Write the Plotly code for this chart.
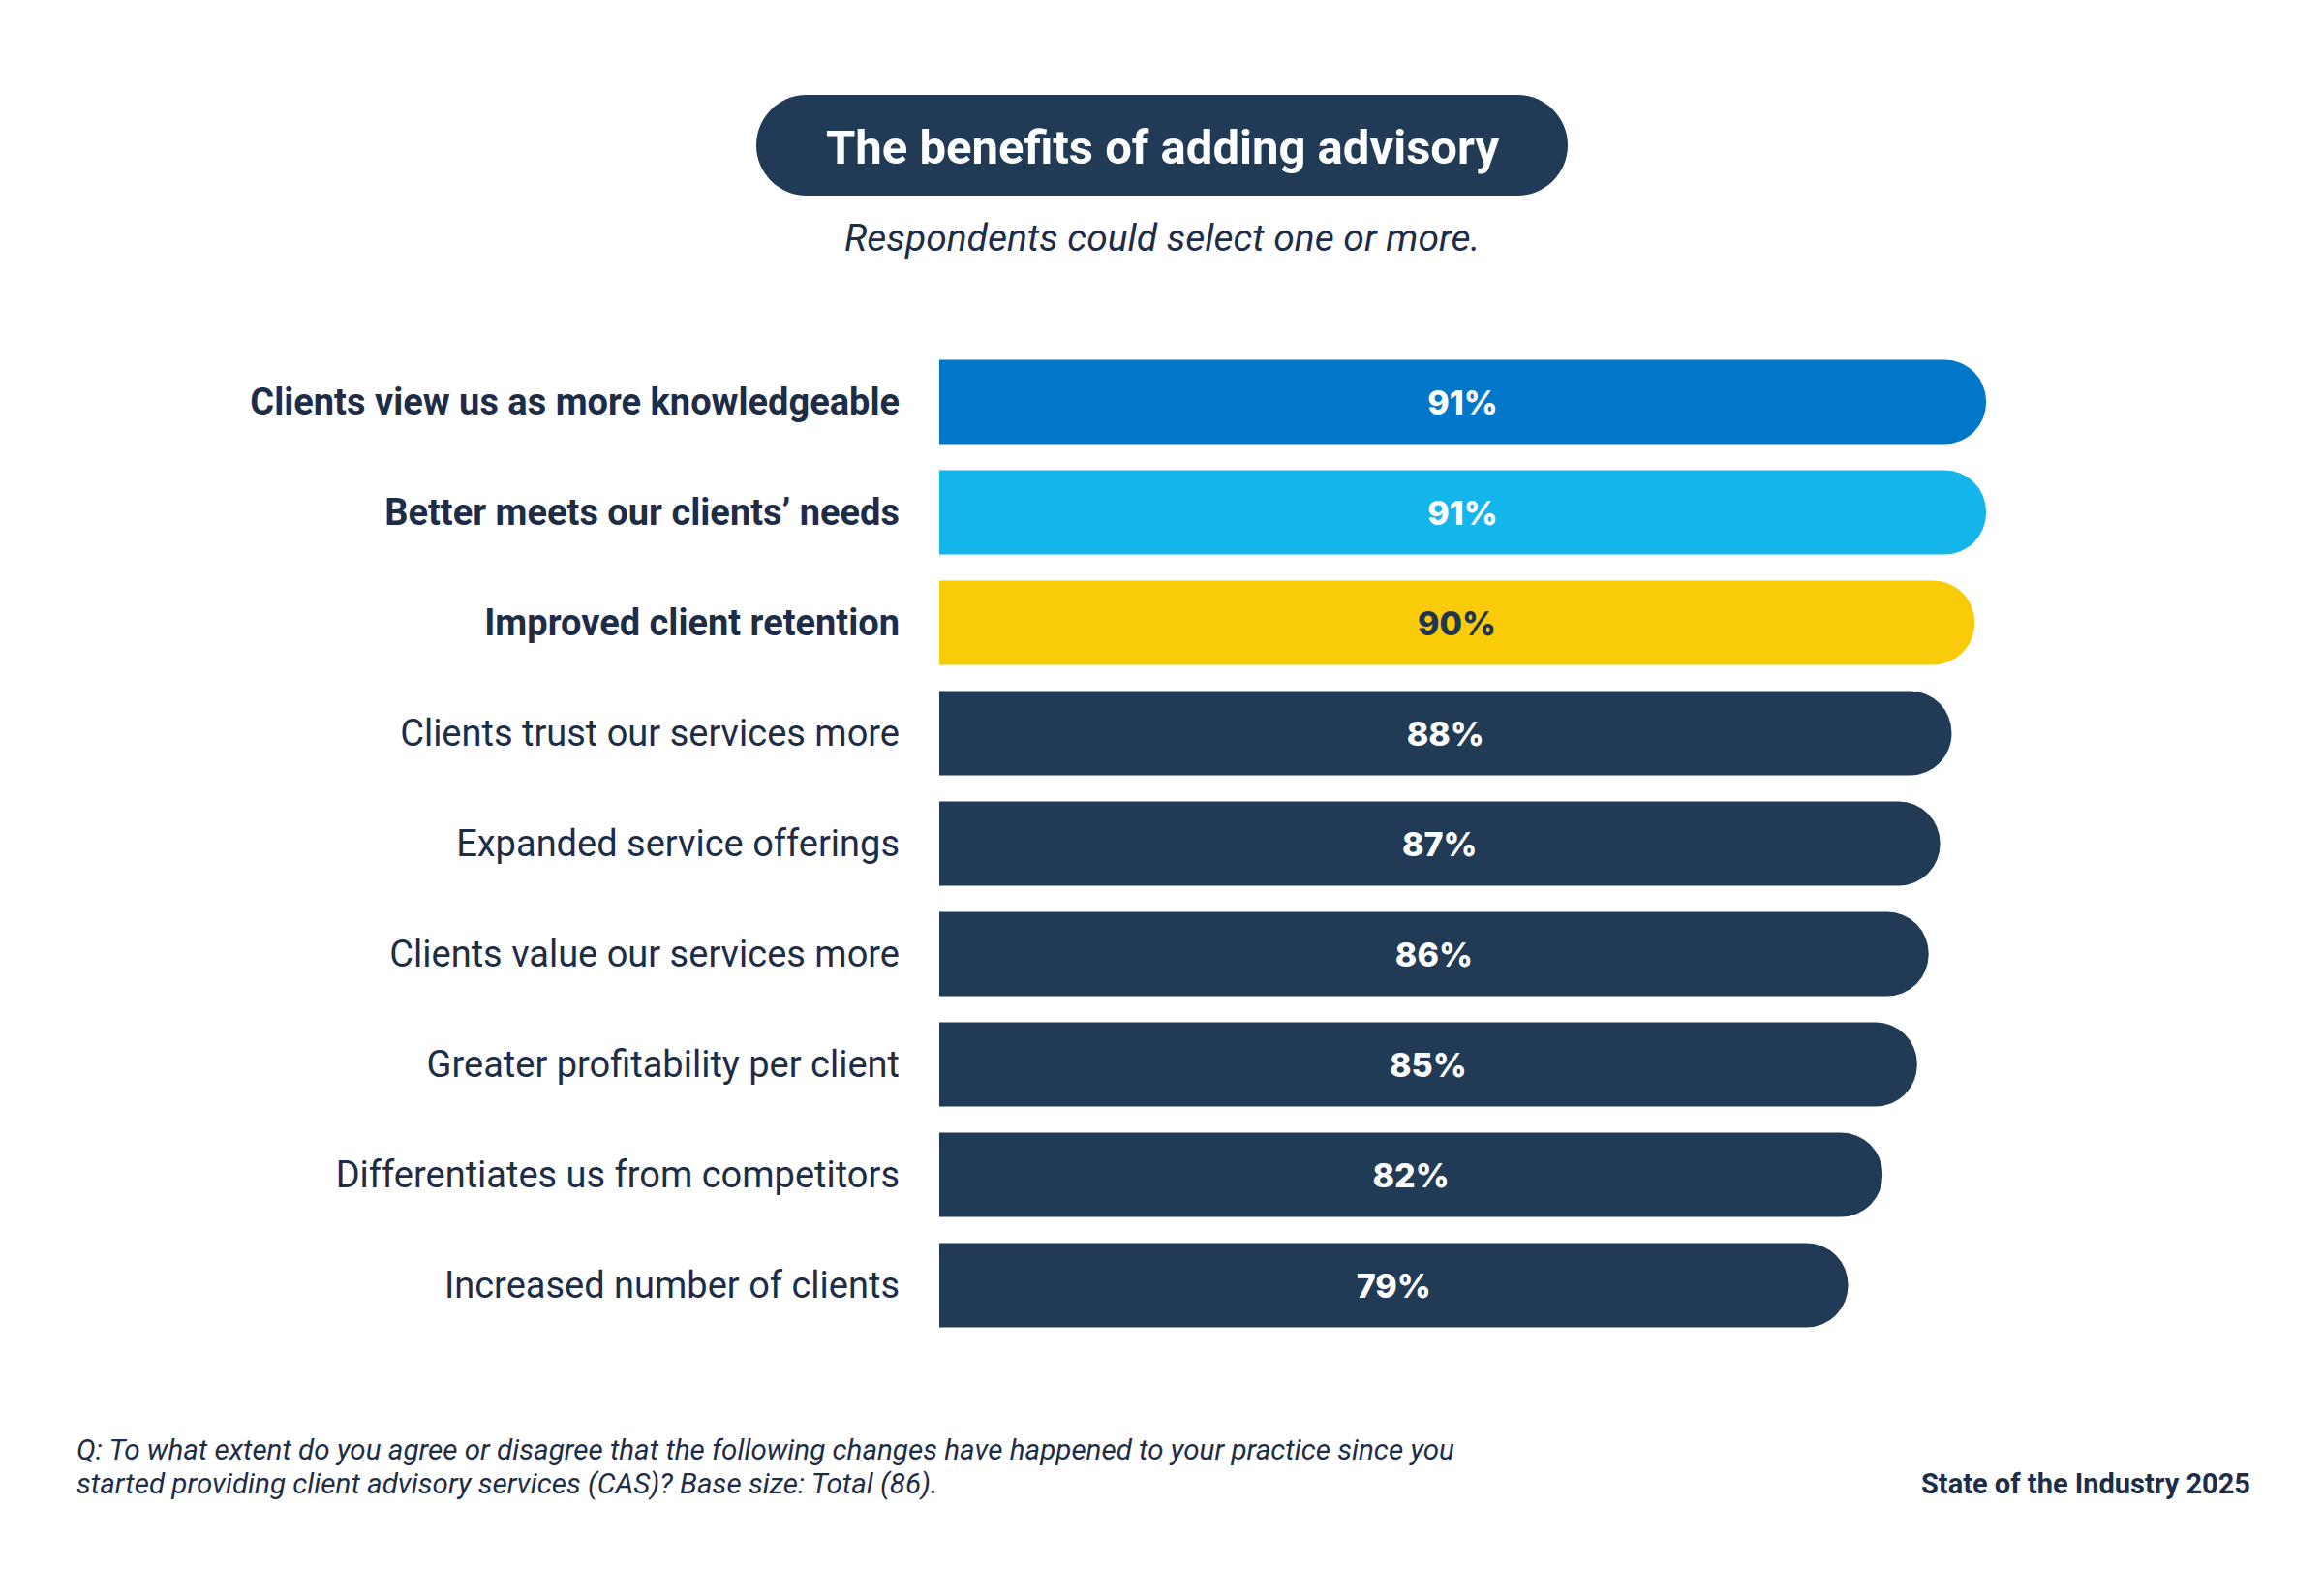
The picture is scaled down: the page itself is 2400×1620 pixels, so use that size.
import plotly.graph_objects as go

# survey results, top to bottom
categories = [
    "Clients view us as more knowledgeable",
    "Better meets our clients’ needs",
    "Improved client retention",
    "Clients trust our services more",
    "Expanded service offerings",
    "Clients value our services more",
    "Greater profitability per client",
    "Differentiates us from competitors",
    "Increased number of clients",
]
values = [91, 91, 90, 88, 87, 86, 85, 82, 79]
highlight = [True, True, True, False, False, False, False, False, False]

bar_colors = ["#0077C8", "#13B5EA", "#FACB09"] + ["#213A56"] * 6
label_colors = ["#FFFFFF", "#FFFFFF", "#1F3551"] + ["#FFFFFF"] * 6

NAVY = "#1E2D47"
W, H = 2400, 1620
OFF = 8  # page body margin shifts the plot, compensate


def px(x):
    return (x - OFF) / W


def py(y):
    return 1 - (y - OFF) / H


tick_text = ["<b>%s</b>" % c if h else c for c, h in zip(categories, highlight)]

fig = go.Figure()

fig.add_trace(
    go.Bar(
        y=categories,
        x=values,
        orientation="h",
        marker=dict(color=bar_colors, cornerradius="50%", line_width=0),
        text=["%d%%" % v for v in values],
        textposition="inside",
        insidetextanchor="middle",
        textangle=0,
        textfont=dict(family="Inter", size=34, color=label_colors, weight=800),
        hoverinfo="skip",
    )
)

# pill behind the title, drawn in pixels around its anchor
r = 52
half = 419 - r
k = 0.5523 * r
pill = (
    f"M {-half},{-r} L {half},{-r} "
    f"C {half + k},{-r} {half + r},{-k} {half + r},0 "
    f"C {half + r},{k} {half + k},{r} {half},{r} "
    f"L {-half},{r} "
    f"C {-half - k},{r} {-half - r},{k} {-half - r},0 "
    f"C {-half - r},{-k} {-half - k},{-r} {-half},{-r} Z"
)

fig.update_layout(
    width=W,
    height=H,
    margin=dict(l=0, r=0, t=0, b=0),
    paper_bgcolor="white",
    plot_bgcolor="white",
    showlegend=False,
    bargap=0.237,
    font=dict(family="Roboto", color=NAVY),
    xaxis=dict(
        domain=[px(970), px(2158)],
        range=[0, 100],
        visible=False,
        fixedrange=True,
    ),
    yaxis=dict(
        domain=[py(1384), py(358)],
        autorange="reversed",
        tickmode="array",
        tickvals=categories,
        ticktext=tick_text,
        tickfont=dict(family="Roboto", size=38, color=NAVY),
        ticklabelstandoff=40,
        showgrid=False,
        showline=False,
        ticks="",
        zeroline=False,
    ),
    shapes=[
        dict(
            type="path",
            xref="paper", yref="paper",
            xsizemode="pixel", ysizemode="pixel",
            xanchor=px(1200), yanchor=py(150),
            path=pill,
            fillcolor="#213A56",
            line_width=0,
            layer="below",
        ),
    ],
    annotations=[
        dict(
            text="<b>The benefits of adding advisory</b>",
            x=px(1200), y=py(152), xref="paper", yref="paper",
            showarrow=False, xanchor="center", yanchor="middle",
            font=dict(family="Roboto", size=49, color="white"),
        ),
        dict(
            text="<i>Respondents could select one or more.</i>",
            x=px(1200), y=py(246), xref="paper", yref="paper",
            showarrow=False, xanchor="center", yanchor="middle",
            font=dict(family="Roboto", size=39, color=NAVY),
        ),
        dict(
            text="<i>Q: To what extent do you agree or disagree that the following changes have happened to your practice since you</i>",
            x=px(77), y=py(1497), xref="paper", yref="paper",
            showarrow=False, xanchor="left", yanchor="middle", align="left",
            font=dict(family="Roboto", size=29.6, color=NAVY),
        ),
        dict(
            text="<i>started providing client advisory services (CAS)? Base size: Total (86).</i>",
            x=px(77), y=py(1532), xref="paper", yref="paper",
            showarrow=False, xanchor="left", yanchor="middle", align="left",
            font=dict(family="Roboto", size=29.6, color=NAVY),
        ),
        dict(
            text="<b>State of the Industry 2025</b>",
            x=px(2326), y=py(1532), xref="paper", yref="paper",
            showarrow=False, xanchor="right", yanchor="middle",
            font=dict(family="Roboto", size=29, color=NAVY),
        ),
    ],
)

fig.write_html("out.html")
